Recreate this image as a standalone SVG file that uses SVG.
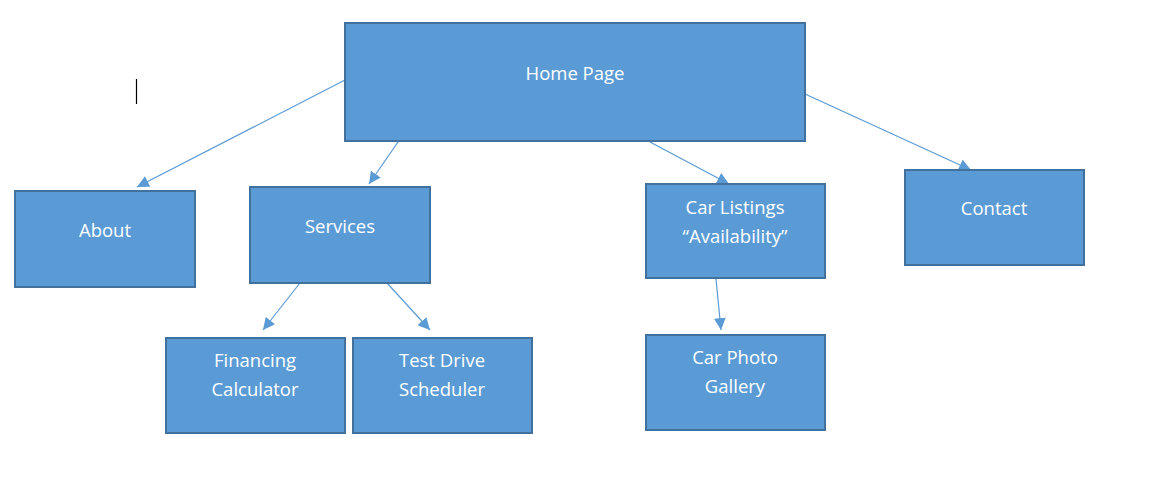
<svg xmlns="http://www.w3.org/2000/svg" width="1150" height="477" viewBox="0 0 1150 477">
<style>
.box{fill:#5B9BD5;stroke:#41719C;stroke-width:2}
.lbl{font-family:"Open Sans","Liberation Sans",sans-serif;font-size:18.5px;font-weight:500;fill:#ffffff;text-anchor:middle}
.conn{stroke:#5B9BD5;stroke-width:1.2;fill:none;marker-end:url(#arr)}
</style>
<defs>
<marker id="arr" markerUnits="userSpaceOnUse" markerWidth="14" markerHeight="12" refX="12" refY="6" orient="auto">
<path d="M0,0 L12,6 L0,12 Z" fill="#5B9BD5"/>
</marker>
</defs>
<rect width="1150" height="477" fill="#ffffff"/>
<line x1="136.5" y1="79" x2="136.5" y2="104" stroke="#000000" stroke-width="1.2"/>
<g id="connectors">
<line class="conn" x1="345" y1="80" x2="137" y2="187"/>
<line class="conn" x1="398" y1="142" x2="369" y2="184"/>
<line class="conn" x1="650" y1="142" x2="729" y2="184"/>
<line class="conn" x1="805" y1="94" x2="971" y2="170"/>
<line class="conn" x1="300" y1="283" x2="263" y2="330"/>
<line class="conn" x1="387" y1="283" x2="430" y2="330"/>
<line class="conn" x1="716" y1="279" x2="721" y2="330"/>
</g>
<g id="home"><rect class="box" x="345" y="23" width="460" height="118"/><text class="lbl" x="575" y="80">Home Page</text></g>
<g id="about"><rect class="box" x="15" y="191" width="180" height="96"/><text class="lbl" x="105" y="237">About</text></g>
<g id="services"><rect class="box" x="250" y="187" width="180" height="96"/><text class="lbl" x="340" y="233">Services</text></g>
<g id="car-listings"><rect class="box" x="646" y="184" width="179" height="94"/><text class="lbl" x="735" y="214">Car Listings</text><text class="lbl" x="735" y="243">“Availability”</text></g>
<g id="contact"><rect class="box" x="905" y="170" width="179" height="95"/><text class="lbl" x="994" y="215">Contact</text></g>
<g id="financing"><rect class="box" x="166" y="338" width="179" height="95"/><text class="lbl" x="255" y="367">Financing</text><text class="lbl" x="255" y="396">Calculator</text></g>
<g id="test-drive"><rect class="box" x="353" y="338" width="179" height="95"/><text class="lbl" x="442" y="367">Test Drive</text><text class="lbl" x="442" y="396">Scheduler</text></g>
<g id="car-photo"><rect class="box" x="646" y="335" width="179" height="95"/><text class="lbl" x="735" y="364">Car Photo</text><text class="lbl" x="735" y="393">Gallery</text></g>
</svg>
